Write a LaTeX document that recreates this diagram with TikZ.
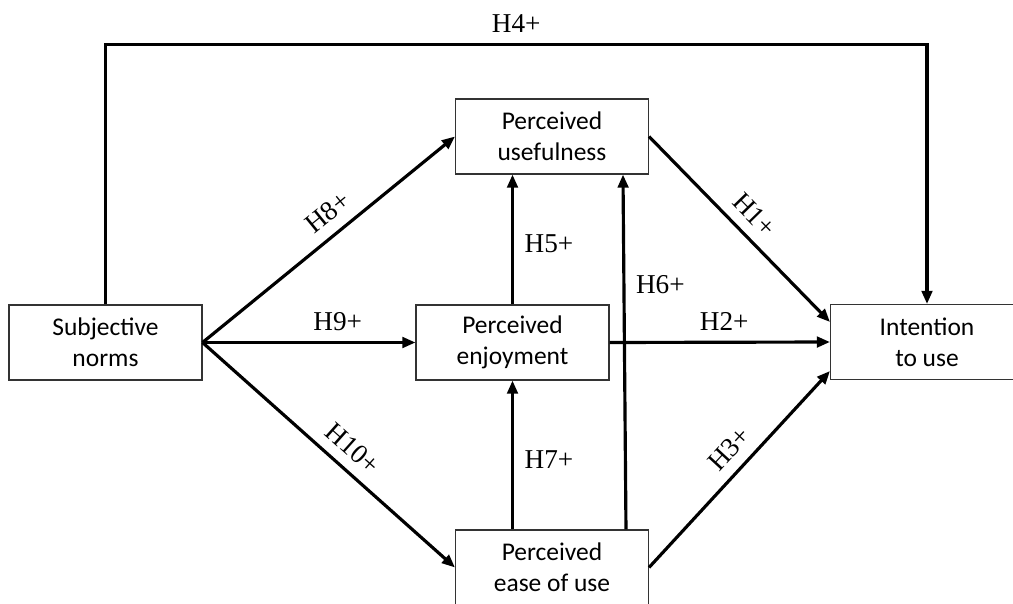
\documentclass[tikz,border=0pt]{standalone}
\usepackage{fontspec}
\setmainfont{Liberation Serif}
\newfontfamily\boxfont{Carlito}
\usetikzlibrary{arrows.meta}

\begin{document}
\begin{tikzpicture}[x=0.02cm,y=-0.02cm,
	construct/.style={draw=black!80,line width=0.6pt,minimum width=3.86cm,minimum height=1.5cm,align=center,font=\boxfont\fontsize{14.5}{17.6}\selectfont},
	link/.style={-{Triangle[length=7.5pt,width=6pt]},line width=1.8pt},
	hyp/.style={font=\fontsize{15.5}{18}\selectfont,inner sep=3pt}]
	\useasboundingbox (0,0) rectangle (1013,604);
	\clip (0,0) rectangle (1013,604);

	\node[construct] (subjective) at (105.5,342.5) {Subjective\\norms};
	\node[construct] (usefulness) at (552,136.5) {Perceived\\usefulness};
	\node[construct] (enjoyment) at (512.5,342.5) {Perceived\\enjoyment};
	\node[construct] (intention) at (927,342) {Intention\\to use};
	\node[construct] (ease) at (552,567.5) {Perceived\\ease of use};

	\foreach \target/\lab/\p in {usefulness.west/H8+/0.55, enjoyment.west/H9+/0.635, ease.west/H10+/0.54}
		\draw[link] (subjective.east) -- node[hyp,sloped,above=3pt,pos=\p] {\lab} (\target);

	\draw[link] (usefulness.east) -- node[hyp,sloped,above=3pt,pos=0.5] {H1+} ([yshift=0.4cm]intention.west);
	\draw[link] (enjoyment.east) -- node[hyp,above=3pt,pos=0.52] {H2+} (intention.west);
	\draw[link] (ease.east) -- node[hyp,sloped,above=3pt,pos=0.53] {H3+} ([yshift=-0.58cm]intention.west);
	\draw[link] (subjective.north) -- ++(0,-260) coordinate (corner) -- node[hyp,above=3pt] {H4+} (corner -| intention.north) -- (intention.north);

	\draw[link] (enjoyment.north) -- node[hyp,right=3pt,pos=0.47] {H5+} (enjoyment.north |- usefulness.south);
	\draw[link] ([xshift=1.48cm]ease.north) -- node[hyp,right=3pt,pos=0.69] {H6+} ([xshift=1.42cm]usefulness.south);
	\draw[link] (enjoyment.south |- ease.north) -- node[hyp,right=3pt,pos=0.47] {H7+} (enjoyment.south);

\end{tikzpicture}
\end{document}
